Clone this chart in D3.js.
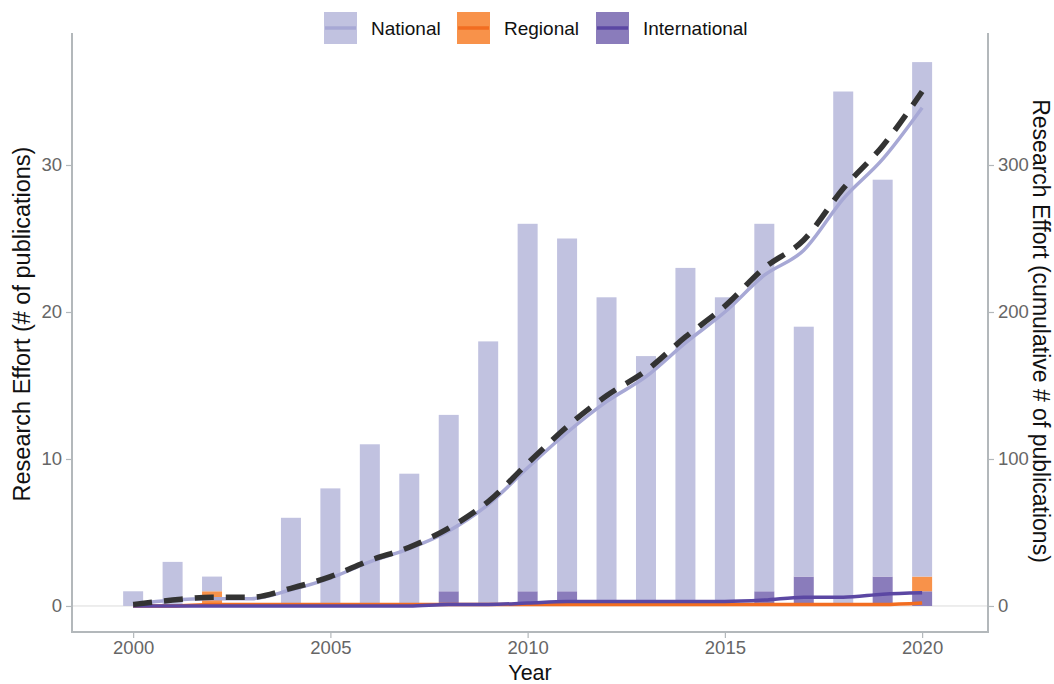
<!DOCTYPE html>
<html>
<head>
<meta charset="utf-8">
<script src="https://cdn.jsdelivr.net/npm/d3@7"></script>
<style>
  body { margin: 0; background: #fff; }
  text { font-family: "Liberation Sans", Arial, sans-serif; }
</style>
</head>
<body>
<div id="chart"></div>
<script>
// publications per year, split by scale
const years = d3.range(2000, 2021)
const national = [1, 3, 1, 0, 6, 8, 11, 9, 12, 18, 25, 24, 21, 17, 23, 21, 25, 17, 35, 27, 35]
const regional = [0, 0, 1, 0, 0, 0, 0, 0, 0, 0, 0, 0, 0, 0, 0, 0, 0, 0, 0, 0, 1]
const international = [0, 0, 0, 0, 0, 0, 0, 0, 1, 0, 1, 1, 0, 0, 0, 0, 1, 2, 0, 2, 1]
const leftTicks = [0, 10, 20, 30]
const rightTicks = [0, 100, 200, 300]
const xTicks = [2000, 2005, 2010, 2015, 2020]

const colors = {
  National: {bar: '#c1c2e0', line: '#a7a8d5'},
  Regional: {bar: '#f8924a', line: '#f26d21'},
  International: {bar: '#8a7cbb', line: '#5b47a3'},
}

const W = 1054, H = 684
const panel = {left: 72, right: 988, top: 33, bottom: 632}

const svg = d3.select('#chart').append('svg')
  .attr('width', W)
  .attr('height', H)

const x = d3.scaleLinear().domain([1998.45, 2021.67]).range([panel.left, panel.right])
const y = d3.scaleLinear().domain([-1.77, 38.98]).range([panel.bottom, panel.top])
const y2 = d3.scaleLinear().domain([-17.7, 389.8]).range([panel.bottom, panel.top])

// rows for stacking: International at bottom, then Regional, then National
const rows = years.map((yr, i) => ({
  year: yr,
  International: international[i],
  Regional: regional[i],
  National: national[i],
}))
const keys = ['International', 'Regional', 'National']
const stacked = d3.stack().keys(keys)(rows)

// zero line
svg.append('line')
  .attr('x1', panel.left).attr('x2', panel.right)
  .attr('y1', y(0)).attr('y2', y(0))
  .attr('stroke', '#dcdcdc').attr('stroke-width', 1)

const barW = 20
svg.append('g').selectAll('g')
  .data(stacked)
  .join('g')
  .attr('fill', (d) => colors[d.key].bar)
  .selectAll('rect')
  .data((d) => d)
  .join('rect')
  .attr('x', (d) => x(d.data.year) - barW / 2)
  .attr('width', barW)
  .attr('y', (d) => y(d[1]))
  .attr('height', (d) => y(d[0]) - y(d[1]))

// cumulative lines
const cum = (arr) => { let s = 0; return arr.map((v) => (s += v)) }
const total = years.map((yr, i) => national[i] + regional[i] + international[i])

const line = d3.line()
  .x((d, i) => x(years[i]))
  .y((d) => y2(d))
  .curve(d3.curveMonotoneX)

svg.append('path').datum(cum(national))
  .attr('d', line).attr('fill', 'none')
  .attr('stroke', colors.National.line).attr('stroke-width', 3.5)
svg.append('path').datum(cum(regional))
  .attr('d', line).attr('fill', 'none')
  .attr('stroke', colors.Regional.line).attr('stroke-width', 3.5)
svg.append('path').datum(cum(international))
  .attr('d', line).attr('fill', 'none')
  .attr('stroke', colors.International.line).attr('stroke-width', 3.5)
svg.append('path').datum(cum(total))
  .attr('d', line).attr('fill', 'none')
  .attr('stroke', '#333333').attr('stroke-width', 5.5)
  .attr('stroke-dasharray', '19,12')

// axes
const axisColor = '#b3b8bb'
function styleAxis(g) {
  g.select('.domain').remove()
  g.selectAll('.tick line').attr('stroke', axisColor).attr('stroke-width', 1.2)
  g.selectAll('.tick text').attr('fill', '#666').attr('font-size', 18.5)
    .attr('font-family', '"Liberation Sans", Arial, sans-serif')
}

svg.append('g')
  .attr('transform', `translate(0,${panel.bottom})`)
  .call(d3.axisBottom(x).tickValues(xTicks).tickFormat(d3.format('d')).tickSize(6).tickPadding(3))
  .call(styleAxis)

svg.append('g')
  .attr('transform', `translate(${panel.left},0)`)
  .call(d3.axisLeft(y).tickValues(leftTicks).tickSize(6).tickPadding(4))
  .call(styleAxis)

svg.append('g')
  .attr('transform', `translate(${panel.right},0)`)
  .call(d3.axisRight(y2).tickValues(rightTicks).tickSize(6).tickPadding(4))
  .call(styleAxis)

// panel border lines (left, bottom, right)
svg.append('path')
  .attr('d', `M${panel.left},${panel.top}V${panel.bottom}H${panel.right}V${panel.top}`)
  .attr('fill', 'none').attr('stroke', axisColor).attr('stroke-width', 2)

// titles
svg.append('text')
  .attr('x', 530).attr('y', 680)
  .attr('text-anchor', 'middle').attr('font-size', 21.5).attr('fill', '#111')
  .text('Year')

svg.append('text')
  .attr('transform', `translate(30,324) rotate(-90)`)
  .attr('text-anchor', 'middle').attr('font-size', 23.5).attr('fill', '#111')
  .text('Research Effort (# of publications)')

svg.append('text')
  .attr('transform', `translate(1033,331) rotate(90)`)
  .attr('text-anchor', 'middle').attr('font-size', 23).attr('fill', '#111')
  .text('Research Effort (cumulative # of publications)')

// legend
const legendItems = [
  {key: 'National', x: 324},
  {key: 'Regional', x: 457},
  {key: 'International', x: 596},
]
const legend = svg.append('g').selectAll('g')
  .data(legendItems)
  .join('g')
  .attr('transform', (d) => `translate(${d.x},12)`)

legend.append('rect')
  .attr('width', 33).attr('height', 32)
  .attr('fill', (d) => colors[d.key].bar)
legend.append('line')
  .attr('x1', 1).attr('x2', 32).attr('y1', 16).attr('y2', 16)
  .attr('stroke', (d) => colors[d.key].line).attr('stroke-width', 3.5)
legend.append('text')
  .attr('x', 47).attr('y', 23)
  .attr('font-size', 19).attr('fill', '#111')
  .text((d) => d.key)
</script>
</body>
</html>
